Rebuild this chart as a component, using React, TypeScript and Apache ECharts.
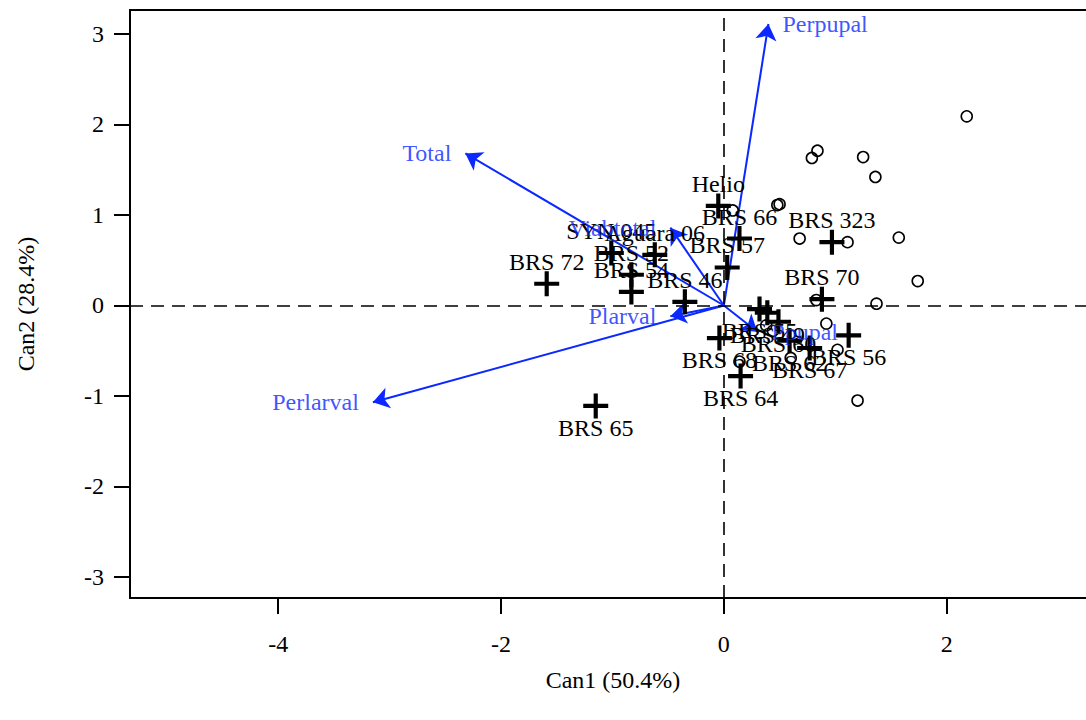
import React, { useEffect, useRef } from "react";
import * as echarts from "echarts";

// Structure coefficient vectors (blue arrows)
const arrowNames = ["Perpupal", "Total", "Perlarval", "Plarval", "Viabtotal", "Ppupal"];
const arrowX = [0.4, -2.32, -3.15, -0.48, -0.48, 0.3];
const arrowY = [3.11, 1.68, -1.07, -0.12, 0.86, -0.29];

// Genotype class means (+)
const genotypeNames = [
  "BRS 72", "BRS 65", "Helio", "BRS 66", "BRS 57", "BRS 323", "BRS 70", "BRS 46",
  "BRS 54", "BRS 52", "SYN 045", "Aguara 06", "BRS 68", "BRS 64", "BRS 56", "BRS 67",
  "BRS 62", "BRS 55", "BRS 49", "BRS 60",
];
const genotypeX = [
  -1.59, -1.15, -0.05, 0.14, 0.03, 0.97, 0.88, -0.35,
  -0.83, -0.83, -1.01, -0.62, -0.04, 0.15, 1.12, 0.77,
  0.59, 0.32, 0.39, 0.49,
];
const genotypeY = [
  0.24, -1.11, 1.1, 0.74, 0.42, 0.7, 0.07, 0.04,
  0.15, 0.34, 0.58, 0.56, -0.36, -0.78, -0.33, -0.47,
  -0.39, -0.04, -0.08, -0.18,
];

// Individual observations (open circles)
const obsX = [
  2.18, 0.79, 0.84, 1.25, 1.36, 0.48, 0.5, 0.68, 1.11, 1.57, 1.74, 1.37, 0.83,
  0.08, 0.92, 1.02, 1.2, 0.38, 0.44, 0.6, 0.14,
];
const obsY = [
  2.09, 1.63, 1.71, 1.64, 1.42, 1.11, 1.12, 0.74, 0.7, 0.75, 0.27, 0.02, 0.06,
  1.05, -0.2, -0.49, -1.05, -0.22, -0.28, -0.58, -0.62,
];

const xTicks = [-4, -2, 0, 2];
const yTicks = [-3, -2, -1, 0, 1, 2, 3];

const FONT = "'Liberation Serif', 'Times New Roman', Times, serif";
const BLUE = "#0a28ff";
const PLUS = "path://M10,0H14V10H24V14H14V24H10V14H0V10H10Z";

export default function App() {
  const ref = useRef<HTMLDivElement>(null);
  useEffect(() => {
    if (!ref.current) return;
    const chart = echarts.init(ref.current, undefined, { renderer: "svg" });
    const textStyle = { color: "#000", fontFamily: FONT, fontSize: 24 };
    const option: any = {
      animation: false,
      grid: {
        left: 130,
        top: 10,
        right: 0,
        bottom: 122,
        show: true,
        borderColor: "#000",
        borderWidth: 2,
        backgroundColor: "transparent",
      },
      xAxis: {
        type: "value",
        min: -5.33,
        max: 3.34,
        axisLine: { show: false, onZero: false },
        splitLine: { show: false },
        axisTick: { show: true, length: 16, lineStyle: { color: "#000", width: 2 }, customValues: xTicks },
        axisLabel: { ...textStyle, customValues: xTicks, margin: 34, formatter: (v: number) => String(v) },
        name: "Can1 (50.4%)",
        nameLocation: "middle",
        nameGap: 70,
        nameTextStyle: textStyle,
      },
      yAxis: {
        type: "value",
        min: -3.232,
        max: 3.265,
        axisLine: { show: false, onZero: false },
        splitLine: { show: false },
        axisTick: { show: true, length: 16, lineStyle: { color: "#000", width: 2 }, customValues: yTicks },
        axisLabel: { ...textStyle, customValues: yTicks, margin: 26, formatter: (v: number) => String(v) },
        name: "Can2 (28.4%)",
        nameLocation: "middle",
        nameGap: 92,
        nameTextStyle: textStyle,
      },
      series: [
        {
          type: "scatter",
          name: "obs",
          data: obsX.map((x, i) => [x, obsY[i]]),
          symbol: "circle",
          symbolSize: 11,
          itemStyle: { color: "rgba(0,0,0,0)", borderColor: "#000", borderWidth: 1.6, opacity: 1 },
          silent: true,
          markLine: {
            silent: true,
            symbol: ["none", "none"],
            label: { show: false },
            lineStyle: { color: "#000", type: [13, 8], width: 1.6 },
            data: [{ xAxis: 0 }, { yAxis: 0 }],
          },
        },
        {
          type: "scatter",
          name: "genotypes",
          symbol: PLUS,
          symbolSize: 25,
          itemStyle: { color: "#000", opacity: 1 },
          silent: true,
          data: genotypeNames.map((n, i) => ({
            name: n,
            value: [genotypeX[i], genotypeY[i]],
            label: { offset: [0, genotypeY[i] > 0 ? -22 : 22] },
          })),
          label: {
            show: true,
            position: "inside",
            formatter: (p: any) => p.name,
            ...textStyle,
          },
        },
        {
          type: "lines",
          coordinateSystem: "cartesian2d",
          silent: true,
          symbol: ["none", "arrow"],
          symbolSize: 16,
          lineStyle: { color: BLUE, width: 2, opacity: 1 },
          data: arrowNames.map((n, i) => ({ coords: [[0, 0], [arrowX[i], arrowY[i]]] })),
        },
        {
          type: "scatter",
          name: "arrowLabels",
          symbolSize: 0,
          silent: true,
          data: arrowNames.map((n, i) => ({
            name: n,
            value: [arrowX[i], arrowY[i]],
            label: { position: arrowX[i] > 0 ? "right" : "left" },
          })),
          label: {
            show: true,
            distance: 14,
            formatter: (p: any) => p.name,
            ...textStyle,
            color: BLUE,
          },
        },
      ],
    };
    chart.setOption(option);
    return () => chart.dispose();
  }, []);
  return (
    <div
      ref={ref}
      style={{ position: "fixed", left: 0, top: 0, width: 1096, height: 720, background: "#fff" }}
    />
  );
}
